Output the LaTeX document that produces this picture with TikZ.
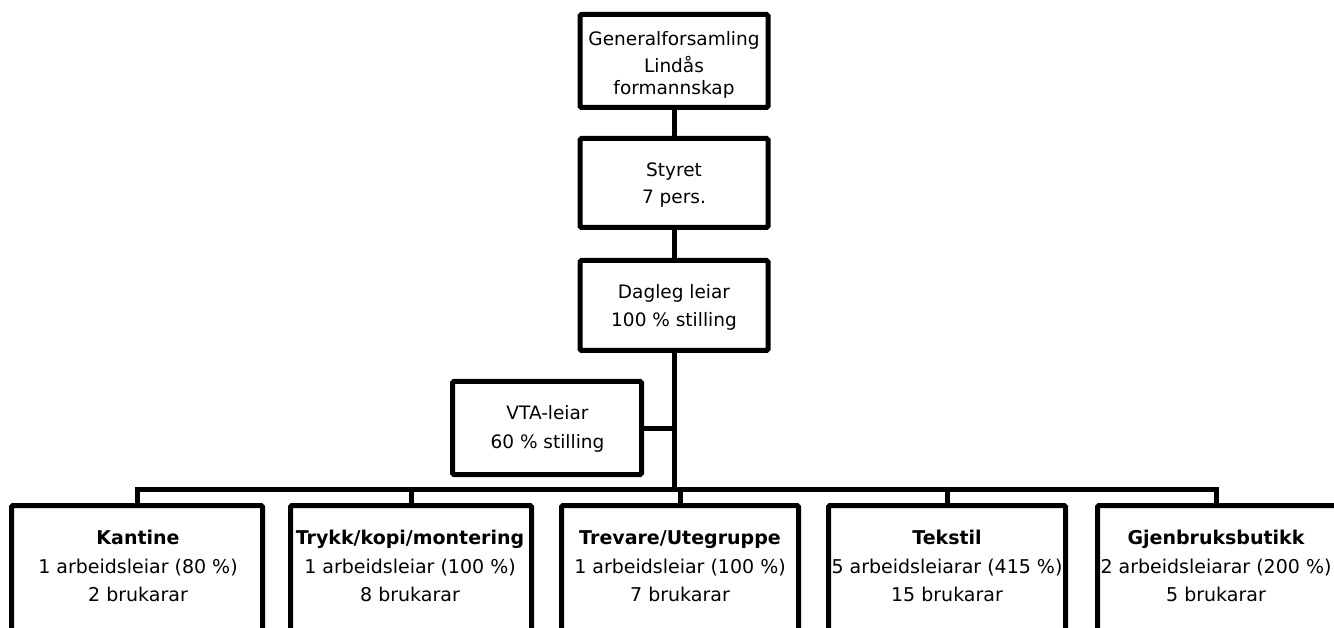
\documentclass[tikz,border=0pt]{standalone}
\usepackage{fontspec}
\setmainfont{DejaVu Sans}
\begin{document}
\begin{tikzpicture}[x=1pt,y=-1pt,
  box/.style 2 args={draw=black, line width=5pt, rounded corners=1.5pt, fill=white,
    inner sep=0pt, minimum width=#1, minimum height=#2},
  conn/.style={draw=black, line width=5pt},
  txt/.style={inner sep=0pt, anchor=base, font=\fontsize{18.5}{22}\selectfont},
  btxt/.style={inner sep=0pt, anchor=base, font=\fontsize{19}{22}\selectfont},
  ttl/.style={inner sep=0pt, anchor=base, font=\fontsize{19}{22}\selectfont\bfseries}]
\useasboundingbox (0,0) rectangle (1334,628);
\clip (0,0) rectangle (1334,628);
\fill[white] (0,0) rectangle (1334,628);

% connector coordinates
\coordinate (bj) at (674,489.5);
\coordinate (gjtop) at (1216,505.5);

% boxes
\node[box={188pt}{93pt}] (gf) at (674,61) {};
\node[box={188pt}{89pt}] (st) at (674,183) {};
\node[box={188pt}{90pt}] (dl) at (674,305.5) {};
\node[box={189pt}{93pt}] (vta) at (547,428) {};
\node[box={251pt}{128pt}] (ka) at (137,569.5) {};
\node[box={241pt}{128pt}] (tk) at (411,569.5) {};
\node[box={237pt}{128pt}] (tr) at (680,569.5) {};
\node[box={237pt}{128pt}] (te) at (947,569.5) {};
\node[box={260pt}{128pt}] (gj) at (1227.5,569.5) {};

% connectors
\draw[conn] (gf.south) -- (st.north);
\draw[conn] (st.south) -- (dl.north);
\draw[conn] (dl.south) -- (bj);
\draw[conn] (vta.east) -- (vta.east -| bj);
\draw[conn] (ka.north) -- (ka.north |- bj) -- (gjtop |- bj) -- (gjtop);
\draw[conn] (tk.north) -- (tk.north |- bj);
\draw[conn] (tr.north) -- (tr.north |- bj);
\draw[conn] (te.north) -- (te.north |- bj);

% texts
\node[txt] (gf1) at (674,46) {Generalforsamling};
\node[txt] (gf2) at (674,72.7) {Lindås};
\node[txt] (gf3) at (674,95) {formannskap};
\node[txt] (st1) at (674,177) {Styret};
\node[txt] (st2) at (674,204) {7 pers.};
\node[txt] (dl1) at (674,299) {Dagleg leiar};
\node[txt] (dl2) at (674,327) {100 \% stilling};
\node[txt] (vt1) at (547.5,420) {VTA-leiar};
\node[txt] (vt2) at (547.5,448) {60 \% stilling};

\node[ttl] (ka1) at (138,544) {Kantine};
\node[btxt] (ka2) at (138,573) {1 arbeidsleiar (80 \%)};
\node[btxt] (ka3) at (138,601) {2 brukarar};
\node[ttl] (tk1) at (410,544) {Trykk/kopi/montering};
\node[btxt] (tk2) at (410,573) {1 arbeidsleiar (100 \%)};
\node[btxt] (tk3) at (410,601) {8 brukarar};
\node[ttl] (tr1) at (680,544) {Trevare/Utegruppe};
\node[btxt] (tr2) at (680,573) {1 arbeidsleiar (100 \%)};
\node[btxt] (tr3) at (680,601) {7 brukarar};
\node[ttl] (te1) at (947,544) {Tekstil};
\node[btxt] (te2) at (947,573) {5 arbeidsleiarar (415 \%)};
\node[btxt] (te3) at (947,601) {15 brukarar};
\node[ttl] (gj1) at (1216,544) {Gjenbruksbutikk};
\node[btxt] (gj2) at (1216,573) {2 arbeidsleiarar (200 \%)};
\node[btxt] (gj3) at (1216,601) {5 brukarar};
\end{tikzpicture}
\end{document}
